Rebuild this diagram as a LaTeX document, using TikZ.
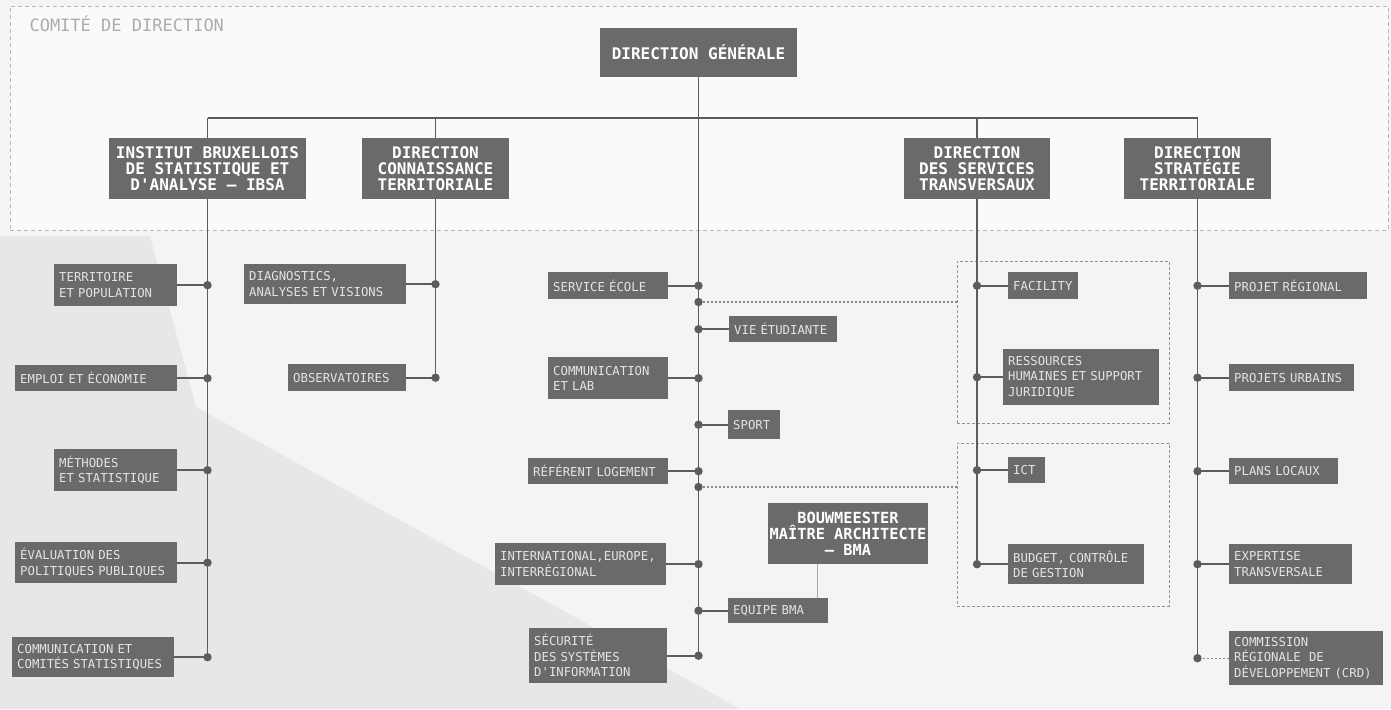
\documentclass[tikz,border=0pt]{standalone}
\usepackage{fontspec}
\newfontfamily\orgfont{DejaVu Sans Mono}
\definecolor{boite}{RGB}{106,106,106}
\definecolor{trait}{RGB}{92,92,92}
\definecolor{fond}{RGB}{244,244,244}
\definecolor{ombre}{RGB}{231,231,231}
\definecolor{comite}{RGB}{250,250,250}
\definecolor{texteboite}{RGB}{228,228,228}

\begin{document}
\begin{tikzpicture}[
    x=1pt, y=-1pt,
    direction/.style={fill=boite, text=white, align=center, inner sep=0pt,
        font=\orgfont\bfseries\fontsize{16}{16}\selectfont},
    service/.style={fill=boite, text=texteboite, align=left, anchor=north west,
        inner xsep=5pt, inner ysep=0pt, font=\orgfont\fontsize{12.3}{15.5}\selectfont},
    groupe/.style={draw=gray!85, dash pattern=on 3pt off 2pt, line width=0.9pt,
        anchor=north west, inner sep=0pt},
    lien/.style={draw=trait, line width=1.8pt},
    pointille/.style={draw=gray!90, dash pattern=on 2pt off 2pt, line width=1.2pt},
    lienbma/.style={draw=gray!70, line width=0.7pt}
]
\useasboundingbox (0,0) rectangle (1391,709);

% Fond
\fill[fond] (0,0) rectangle (1391,709);
\fill[ombre] (0,236) -- (150,236) -- (196,407) -- (580,620) -- (740,709) -- (0,709) -- cycle;

% Comite de direction
\node[draw=gray!55, fill=comite, dash pattern=on 4pt off 3pt, line width=0.9pt,
    anchor=north west, inner sep=0pt, minimum width=1378pt, minimum height=224pt] (cdir) at (10,6) {};
\node[anchor=west, text=gray!65, font=\orgfont\fontsize{17}{17}\selectfont] (titre) at (26,24) {COMITÉ DE DIRECTION};

% Groupes en pointilles
\node[groupe, minimum width=212pt, minimum height=162pt] (grp1) at (957,261) {};
\node[groupe, minimum width=212pt, minimum height=163pt] (grp2) at (957,443) {};

% Directions
\node[direction, minimum width=197pt, minimum height=49pt] (dg) at (698.5,52.5) {DIRECTION GÉNÉRALE};
\node[direction, minimum width=197pt, minimum height=61pt] (ibsa) at (207.5,168.5) {INSTITUT BRUXELLOIS\\DE STATISTIQUE ET\\D'ANALYSE – IBSA};
\node[direction, minimum width=147pt, minimum height=61pt] (dct) at (435.5,168.5) {DIRECTION\\CONNAISSANCE\\TERRITORIALE};
\node[direction, minimum width=146pt, minimum height=61pt] (dst) at (977,168.5) {DIRECTION\\DES SERVICES\\TRANSVERSAUX};
\node[direction, minimum width=147pt, minimum height=61pt] (dstr) at (1197.5,168.5) {DIRECTION\\STRATÉGIE\\TERRITORIALE};
\node[direction, minimum width=160pt, minimum height=61pt,
    font=\orgfont\bfseries\fontsize{15.3}{16}\selectfont] (bma) at (848,533.5) {BOUWMEESTER\\MAÎTRE ARCHITECTE\\– BMA};

% IBSA
\node[service, text width=113pt, minimum height=42pt] (terr) at (54,264) {TERRITOIRE\\ET POPULATION};
\node[service, text width=152pt, minimum height=26pt] (emploi) at (15,365) {EMPLOI ET ÉCONOMIE};
\node[service, text width=113pt, minimum height=42pt] (meth) at (54,449) {MÉTHODES\\ET STATISTIQUE};
\node[service, text width=152pt, minimum height=41pt] (eval) at (15,542) {ÉVALUATION DES\\POLITIQUES PUBLIQUES};
\node[service, text width=152pt, minimum height=40pt] (comst) at (12,637) {COMMUNICATION ET\\COMITÉS STATISTIQUES};

% Connaissance territoriale
\node[service, text width=152pt, minimum height=40pt] (diag) at (244,264) {DIAGNOSTICS,\\ANALYSES ET VISIONS};
\node[service, text width=108pt, minimum height=27pt] (obs) at (288,364) {OBSERVATOIRES};

% Direction generale
\node[service, text width=110pt, minimum height=27pt] (ecole) at (548,272) {SERVICE ÉCOLE};
\node[service, text width=98pt, minimum height=26pt] (vie) at (729,316) {VIE ÉTUDIANTE};
\node[service, text width=110pt, minimum height=42pt] (comlab) at (548,357) {COMMUNICATION\\ET LAB};
\node[service, text width=42pt, minimum height=29pt] (sport) at (728,410) {SPORT};
\node[service, text width=130pt, minimum height=26pt] (logement) at (528,458) {RÉFÉRENT LOGEMENT};
\node[service, text width=161pt, minimum height=42pt] (inter) at (495,543) {INTERNATIONAL,EUROPE,\\INTERRÉGIONAL};
\node[service, text width=90pt, minimum height=25pt] (equipe) at (728,598) {EQUIPE BMA};
\node[service, text width=128pt, minimum height=55pt] (secu) at (529,628) {SÉCURITÉ\\DES SYSTÈMES\\D'INFORMATION};

% Services transversaux
\node[service, text width=60pt, minimum height=27pt] (facility) at (1008,272) {FACILITY};
\node[service, text width=146pt, minimum height=56pt] (rh) at (1003,349) {RESSOURCES\\HUMAINES ET SUPPORT\\JURIDIQUE};
\node[service, text width=27pt, minimum height=26pt] (ict) at (1008,457) {ICT};
\node[service, text width=126pt, minimum height=40pt] (budget) at (1008,544) {BUDGET, CONTRÔLE\\DE GESTION};

% Strategie territoriale
\node[service, text width=128pt, minimum height=27pt] (projreg) at (1229,272) {PROJET RÉGIONAL};
\node[service, text width=115pt, minimum height=27pt] (projurb) at (1229,364) {PROJETS URBAINS};
\node[service, text width=99pt, minimum height=26pt] (plans) at (1229,458) {PLANS LOCAUX};
\node[service, text width=113pt, minimum height=40pt] (expertise) at (1229,544) {EXPERTISE\\TRANSVERSALE};
\node[service, text width=144pt, minimum height=54pt] (crd) at (1229,631) {COMMISSION\\RÉGIONALE\ \ DE\\DÉVELOPPEMENT (CRD)};

% Liaisons
\coordinate (bus) at (0,118);
\draw[lien] (ibsa |- bus) -- (dstr |- bus);
\draw[lien] (dg.south) -- (secu.east -| dg);
\foreach \d in {ibsa, dct, dst, dstr}
    \draw[lien] (\d |- bus) -- (\d.north);
\draw[lien] (ibsa.south) -- (comst.east -| ibsa);
\draw[lien] (dct.south) -- (obs.east -| dct);
\draw[lien] (dst.south) -- (budget.west -| dst);
\draw[lien] (dstr.south) -- (crd.west -| dstr);

\foreach \s/\d in {terr/ibsa, emploi/ibsa, meth/ibsa, eval/ibsa, comst/ibsa, diag/dct, obs/dct,
        ecole/dg, comlab/dg, logement/dg, inter/dg, secu/dg} {
    \draw[lien] (\s.east) -- (\s.east -| \d);
    \fill[trait] (\s.east -| \d) circle (4.2pt);
}
\foreach \s/\d in {vie/dg, sport/dg, equipe/dg, facility/dst, rh/dst, ict/dst, budget/dst,
        projreg/dstr, projurb/dstr, plans/dstr, expertise/dstr} {
    \draw[lien] (\s.west) -- (\s.west -| \d);
    \fill[trait] (\s.west -| \d) circle (4.2pt);
}

% Liens en pointilles
\coordinate (lien1) at (698.5,302);
\coordinate (lien2) at (698.5,487);
\draw[pointille] (lien1) -- (lien1 -| grp1.west);
\draw[pointille] (lien2) -- (lien2 -| grp2.west);
\draw[pointille] (crd.west) -- (crd.west -| dstr);
\fill[trait] (lien1) circle (4.2pt);
\fill[trait] (lien2) circle (4.2pt);
\fill[trait] (crd.west -| dstr) circle (4.2pt);

% BMA
\coordinate (bmapied) at (817,564);
\draw[lienbma] (bmapied) -- (bmapied |- equipe.north);

\end{tikzpicture}
\end{document}
